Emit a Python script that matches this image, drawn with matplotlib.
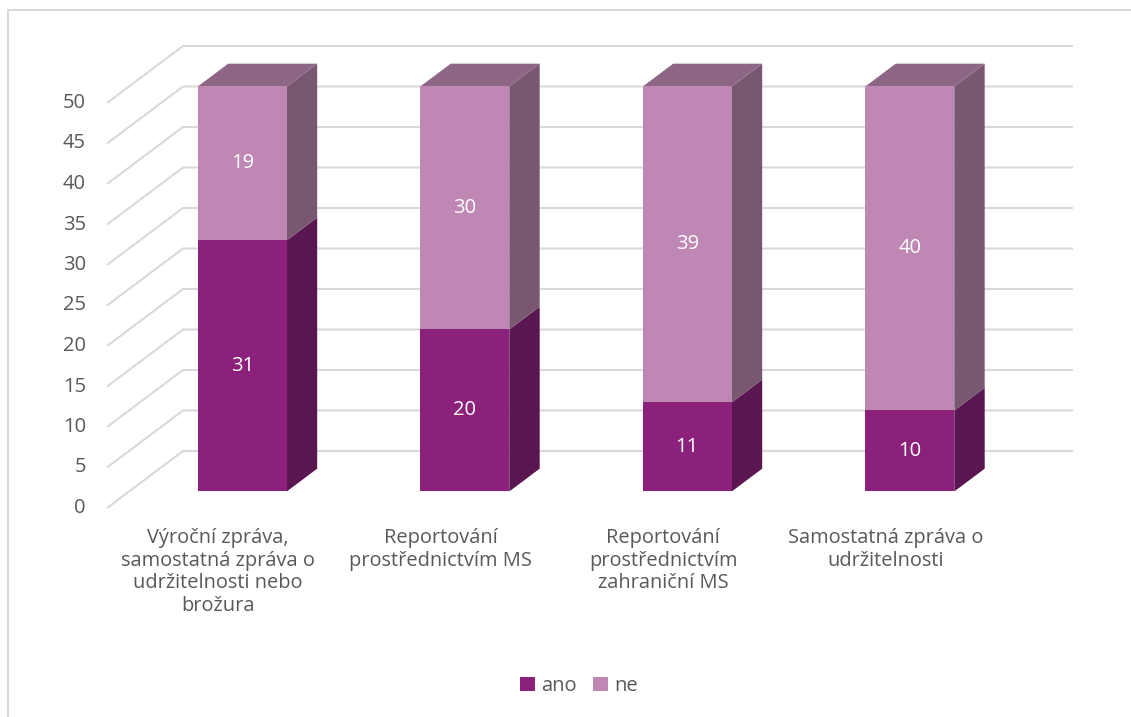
""" Stacked 3D-looking column chart: ano / ne by reporting type. """

import matplotlib.pyplot as plt
from matplotlib.patches import Polygon, Patch

plt.rcParams['font.family'] = ['Open Sans', 'DejaVu Sans']

# Data
categories = ['Výroční zpráva,\nsamostatná zpráva o\nudržitelnosti nebo\nbrožura',
              'Reportování\nprostřednictvím MS',
              'Reportování\nprostřednictvím\nzahraniční MS',
              'Samostatná zpráva o\nudržitelnosti']
ano = [31, 20, 11, 10]
ne = [19, 30, 39, 40]
series_names = ['ano', 'ne']
y_ticks = list(range(0, 55, 5))

# Colours: front, side, top
colors = {
    'ano': ('#8C217C', '#5A1650', '#6E1A62'),
    'ne': ('#BE87B4', '#785871', '#8E6685'),
}
grid_color = '#d9d9d9'
text_color = '#595959'

# Geometry (pixels per category / per unit, origin of the front floor)
px_cat = 222.5
px_unit = 8.1
x0_px = 107
y0_px = 508
W, H = 1131, 717

# Full depth of the floor and the slice of it a bar uses
DX = 76 / px_cat
DY = 57 / px_unit
d0, d1 = 0.29, 0.69
bar_w = 0.40

fig = plt.figure(figsize=(W / 100, H / 100), dpi=100)
ax = fig.add_axes([0, 0, 1, 1])
ax.set_xlim(-x0_px / px_cat, (W - x0_px) / px_cat)
ax.set_ylim(-(H - y0_px) / px_unit, y0_px / px_unit)
ax.axis('off')

# Chart border (top and left visible)
fig.add_artist(plt.Line2D([8 / W, 8 / W], [0, 1 - 10 / H], color='#d9d9d9', lw=1.5))
fig.add_artist(plt.Line2D([8 / W, 1], [1 - 10 / H, 1 - 10 / H], color='#d9d9d9', lw=1.5))

n = len(categories)

# Gridlines: side wall diagonal then back wall
for v in y_ticks:
    ax.plot([0, DX, n + DX], [v, v + DY, v + DY], color=grid_color, lw=1.5,
            solid_capstyle='butt', zorder=1)
    ax.text(-21 / px_cat, v, str(v), ha='right', va='center', fontsize=14.5,
            color=text_color)


def draw_segment(xc, bottom, top, cols, with_top):
    front, side, top_c = cols
    ox, oy = d0 * DX, d0 * DY
    ddx, ddy = (d1 - d0) * DX, (d1 - d0) * DY
    xl = xc - bar_w / 2 + ox
    xr = xc + bar_w / 2 + ox
    yb = bottom + oy
    yt = top + oy
    ax.add_patch(Polygon([(xr, yb), (xr + ddx, yb + ddy), (xr + ddx, yt + ddy), (xr, yt)],
                         closed=True, facecolor=side, edgecolor='none', zorder=3))
    if with_top:
        ax.add_patch(Polygon([(xl, yt), (xr, yt), (xr + ddx, yt + ddy), (xl + ddx, yt + ddy)],
                             closed=True, facecolor=top_c, edgecolor='none', zorder=3))
    ax.add_patch(Polygon([(xl, yb), (xr, yb), (xr, yt), (xl, yt)],
                         closed=True, facecolor=front, edgecolor='none', zorder=4))
    ax.text((xl + xr) / 2, (yb + yt) / 2, str(top - bottom), ha='center', va='center',
            fontsize=14.5, color='white', zorder=5)


for i in range(n):
    xc = i + 0.5 + 2 / px_cat
    draw_segment(xc, 0, ano[i], colors['ano'], False)
    draw_segment(xc, ano[i], ano[i] + ne[i], colors['ne'], True)
    ax.text(i + 0.5, -20 / px_unit, categories[i], ha='center', va='top',
            fontsize=14.4, color=text_color, linespacing=1.17)

handles = [Patch(facecolor=colors[s][0], label=s) for s in series_names]
ax.legend(handles=handles, loc='center', bbox_to_anchor=(579 / W, 1 - 686 / H), ncol=2,
          frameon=False, fontsize=14.5, handlelength=0.75, handleheight=0.75,
          handletextpad=0.3, columnspacing=0.8, labelcolor=text_color)

plt.savefig('out.png', dpi=100)
